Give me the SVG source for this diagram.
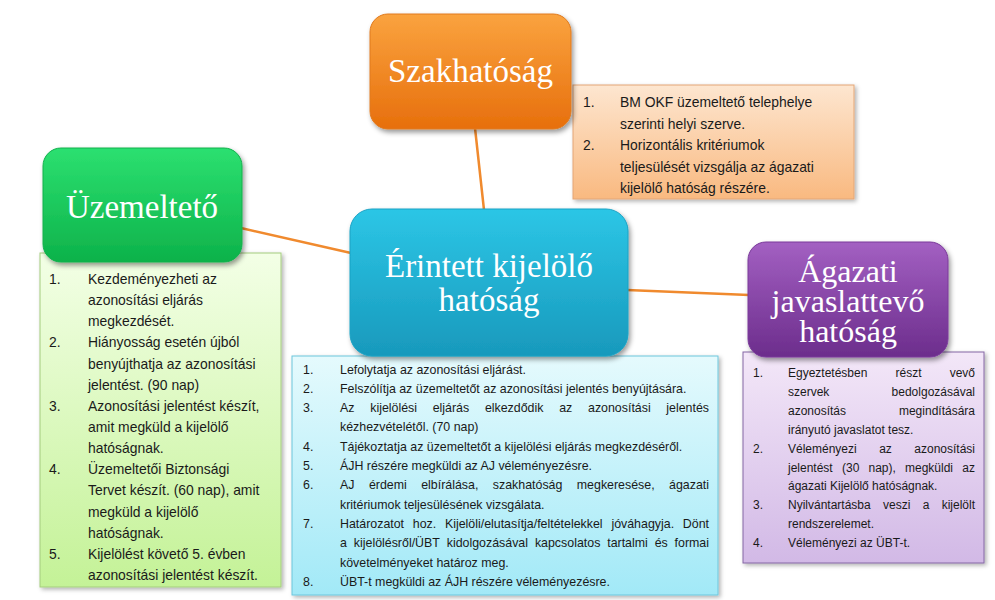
<svg xmlns="http://www.w3.org/2000/svg" width="995" height="600" viewBox="0 0 995 600">
<defs>
<style>
.nt{font-family:"Liberation Serif","Times New Roman",serif;font-size:33px;fill:#ffffff;text-anchor:middle}
.nt2{font-size:32px}
.lt{font-family:"Liberation Sans",Arial,sans-serif;fill:#1a1a1a}
.big{font-size:13.9px}
.mid{font-size:12.4px}
.sm{font-size:12px}
.conn{stroke:#F08A2E;stroke-width:2.5;fill:none;stroke-linecap:round}
.node{filter:url(#sh)}
.list{filter:url(#sh2)}
</style>
<filter id="sh" x="-10%" y="-10%" width="125%" height="130%">
<feDropShadow dx="2" dy="3" stdDeviation="2.5" flood-color="#000" flood-opacity="0.4"/>
</filter>
<filter id="sh2" x="-5%" y="-5%" width="112%" height="115%">
<feDropShadow dx="2" dy="2" stdDeviation="2" flood-color="#000" flood-opacity="0.3"/>
</filter>
<linearGradient id="gOr" x1="0" y1="0" x2="0" y2="1"><stop offset="0" stop-color="#FAA33F"/><stop offset="1" stop-color="#E76F0C"/></linearGradient>
<linearGradient id="gGr" x1="0" y1="0" x2="0" y2="1"><stop offset="0" stop-color="#2CE070"/><stop offset="1" stop-color="#0DB24A"/></linearGradient>
<linearGradient id="gCy" x1="0" y1="0" x2="0" y2="1"><stop offset="0" stop-color="#2CC6E6"/><stop offset="1" stop-color="#1899BC"/></linearGradient>
<linearGradient id="gPu" x1="0" y1="0" x2="0" y2="1"><stop offset="0" stop-color="#A360C2"/><stop offset="1" stop-color="#6C2D8C"/></linearGradient>
<linearGradient id="lOr" x1="0" y1="0" x2="0" y2="1"><stop offset="0" stop-color="#FDE6D0"/><stop offset="1" stop-color="#F9B980"/></linearGradient>
<linearGradient id="lGr" x1="0" y1="0" x2="0" y2="1"><stop offset="0" stop-color="#F3FFE6"/><stop offset="1" stop-color="#C4F297"/></linearGradient>
<linearGradient id="lCy" x1="0" y1="0" x2="0" y2="1"><stop offset="0" stop-color="#E5FAFD"/><stop offset="1" stop-color="#A2E9F7"/></linearGradient>
<linearGradient id="lPu" x1="0" y1="0" x2="0" y2="1"><stop offset="0" stop-color="#F3E7F8"/><stop offset="1" stop-color="#D2B9E6"/></linearGradient>
</defs>
<rect width="995" height="600" fill="#ffffff"/>

<g id="connectors">
<line class="conn" x1="475" y1="128" x2="484" y2="210"/>
<line class="conn" x1="241" y1="228" x2="351" y2="253"/>
<line class="conn" x1="627" y1="290" x2="749" y2="295"/>
</g>

<g id="szakhatosag-lista">
<rect class="list" x="573" y="85" width="281" height="114" fill="url(#lOr)" stroke="#E3A676" stroke-width="1"/>
<text class="lt big" x="583" y="107">1.</text>
<text class="lt big" x="620" y="107">BM OKF üzemeltető telephelye</text>
<text class="lt big" x="620" y="128.5">szerinti helyi szerve.</text>
<text class="lt big" x="583" y="150">2.</text>
<text class="lt big" x="620" y="150">Horizontális kritériumok</text>
<text class="lt big" x="620" y="171.5">teljesülését vizsgálja az ágazati</text>
<text class="lt big" x="620" y="193">kijelölő hatóság részére.</text>
</g>

<g id="szakhatosag">
<rect class="node" x="370" y="14" width="201" height="115" rx="18" fill="url(#gOr)" stroke="#E07A1E" stroke-width="1"/>
<text class="nt" x="470.5" y="82">Szakhatóság</text>
</g>

<g id="uzemelteto-lista">
<rect class="list" x="40" y="253" width="241" height="334" fill="url(#lGr)" stroke="#A4CC7E" stroke-width="1"/>
<text class="lt big" x="49" y="284">1.</text>
<text class="lt big" x="88" y="284">Kezdeményezheti az</text>
<text class="lt big" x="88" y="305.1">azonosítási eljárás</text>
<text class="lt big" x="88" y="326.3">megkezdését.</text>
<text class="lt big" x="49" y="347.4">2.</text>
<text class="lt big" x="88" y="347.4">Hiányosság esetén újból</text>
<text class="lt big" x="88" y="368.6">benyújthatja az azonosítási</text>
<text class="lt big" x="88" y="389.7">jelentést. (90 nap)</text>
<text class="lt big" x="49" y="410.8">3.</text>
<text class="lt big" x="88" y="410.8">Azonosítási jelentést készít,</text>
<text class="lt big" x="88" y="432">amit megküld a kijelölő</text>
<text class="lt big" x="88" y="453.1">hatóságnak.</text>
<text class="lt big" x="49" y="474.3">4.</text>
<text class="lt big" x="88" y="474.3">Üzemeltetői Biztonsági</text>
<text class="lt big" x="88" y="495.4">Tervet készít. (60 nap), amit</text>
<text class="lt big" x="88" y="516.6">megküld a kijelölő</text>
<text class="lt big" x="88" y="537.7">hatóságnak.</text>
<text class="lt big" x="49" y="558.8">5.</text>
<text class="lt big" x="88" y="558.8">Kijelölést követő 5. évben</text>
<text class="lt big" x="88" y="580">azonosítási jelentést készít.</text>
</g>

<g id="uzemelteto">
<rect class="node" x="43" y="148" width="199" height="114" rx="18" fill="url(#gGr)" stroke="#12B04C" stroke-width="1"/>
<text class="nt" x="142" y="218">Üzemeltető</text>
</g>

<g id="erintett-lista">
<rect class="list" x="292" y="356" width="426" height="239" fill="url(#lCy)" stroke="#6CC6DC" stroke-width="1"/>
<text class="lt mid" x="303" y="373.5">1.</text>
<text class="lt mid" x="340" y="373.5">Lefolytatja az azonosítási eljárást.</text>
<text class="lt mid" x="303" y="392.8">2.</text>
<text class="lt mid" x="340" y="392.8">Felszólítja az üzemeltetőt az azonosítási jelentés benyújtására.</text>
<text class="lt mid" x="303" y="412.1">3.</text>
<text class="lt mid" y="412.1"><tspan x="340">Az</tspan><tspan x="370.2">kijelölési</tspan><tspan x="432.7">eljárás</tspan><tspan x="484.9">elkezdődik</tspan><tspan x="559.2">az</tspan><tspan x="588">azonosítási</tspan><tspan x="709" text-anchor="end">jelentés</tspan></text>
<text class="lt mid" x="340" y="431.4">kézhezvételétől. (70 nap)</text>
<text class="lt mid" x="303" y="450.7">4.</text>
<text class="lt mid" x="340" y="450.7">Tájékoztatja az üzemeltetőt a kijelölési eljárás megkezdéséről.</text>
<text class="lt mid" x="303" y="470">5.</text>
<text class="lt mid" x="340" y="470">ÁJH részére megküldi az AJ véleményezésre.</text>
<text class="lt mid" x="303" y="489.3">6.</text>
<text class="lt mid" y="489.3"><tspan x="340">AJ</tspan><tspan x="368.9">érdemi</tspan><tspan x="421.2">elbírálása,</tspan><tspan x="492.8">szakhatóság</tspan><tspan x="576.8">megkeresése,</tspan><tspan x="709" text-anchor="end">ágazati</tspan></text>
<text class="lt mid" x="340" y="508.6">kritériumok teljesülésének vizsgálata.</text>
<text class="lt mid" x="303" y="527.9">7.</text>
<text class="lt mid" y="527.9"><tspan x="340">Határozatot</tspan><tspan x="412.8">hoz.</tspan><tspan x="444.9">Kijelöli/elutasítja/feltételekkel</tspan><tspan x="611.4">jóváhagyja.</tspan><tspan x="709" text-anchor="end">Dönt</tspan></text>
<text class="lt mid" y="547.2"><tspan x="340">a</tspan><tspan x="353.8">kijelölésről/ÜBT</tspan><tspan x="446.7">kidolgozásával</tspan><tspan x="534.9">kapcsolatos</tspan><tspan x="607.2">tartalmi</tspan><tspan x="654.7">és</tspan><tspan x="709" text-anchor="end">formai</tspan></text>
<text class="lt mid" x="340" y="566.5">követelményeket határoz meg.</text>
<text class="lt mid" x="303" y="585.8">8.</text>
<text class="lt mid" x="340" y="585.8">ÜBT-t megküldi az ÁJH részére véleményezésre.</text>
</g>

<g id="erintett">
<rect class="node" x="350" y="209" width="278" height="147" rx="22" fill="url(#gCy)" stroke="#1AA2C4" stroke-width="1"/>
<text class="nt" x="489" y="277">Érintett kijelölő</text>
<text class="nt" x="489" y="311">hatóság</text>
</g>

<g id="agazati-lista">
<rect class="list" x="743" y="352" width="241" height="211" fill="url(#lPu)" stroke="#8466A4" stroke-width="1"/>
<text class="lt sm" x="753" y="377">1.</text>
<text class="lt sm" y="377"><tspan x="788">Egyeztetésben</tspan><tspan x="895.5">részt</tspan><tspan x="975" text-anchor="end">vevő</tspan></text>
<text class="lt sm" y="395.9"><tspan x="788">szervek</tspan><tspan x="975" text-anchor="end">bedolgozásával</tspan></text>
<text class="lt sm" y="414.8"><tspan x="788">azonosítás</tspan><tspan x="975" text-anchor="end">megindítására</tspan></text>
<text class="lt sm" x="788" y="433.7">irányutó javaslatot tesz.</text>
<text class="lt sm" x="753" y="452.6">2.</text>
<text class="lt sm" y="452.6"><tspan x="788">Véleményezi</tspan><tspan x="879.2">az</tspan><tspan x="975" text-anchor="end">azonosítási</tspan></text>
<text class="lt sm" y="471.5"><tspan x="788">jelentést</tspan><tspan x="842">(30</tspan><tspan x="868.5">nap),</tspan><tspan x="905">megküldi</tspan><tspan x="975" text-anchor="end">az</tspan></text>
<text class="lt sm" x="788" y="490.4">ágazati Kijelölő hatóságnak.</text>
<text class="lt sm" x="753" y="509.3">3.</text>
<text class="lt sm" y="509.3"><tspan x="788">Nyilvántartásba</tspan><tspan x="883">veszi</tspan><tspan x="922.7">a</tspan><tspan x="975" text-anchor="end">kijelölt</tspan></text>
<text class="lt sm" x="788" y="528.2">rendszerelemet.</text>
<text class="lt sm" x="753" y="547.1">4.</text>
<text class="lt sm" x="788" y="547.1">Véleményezi az ÜBT-t.</text>
</g>

<g id="agazati">
<rect class="node" x="748" y="242" width="200" height="115" rx="18" fill="url(#gPu)" stroke="#7A3A9A" stroke-width="1"/>
<text class="nt nt2" x="848" y="282">Ágazati</text>
<text class="nt nt2" x="848" y="312">javaslattevő</text>
<text class="nt nt2" x="848" y="342">hatóság</text>
</g>
</svg>
